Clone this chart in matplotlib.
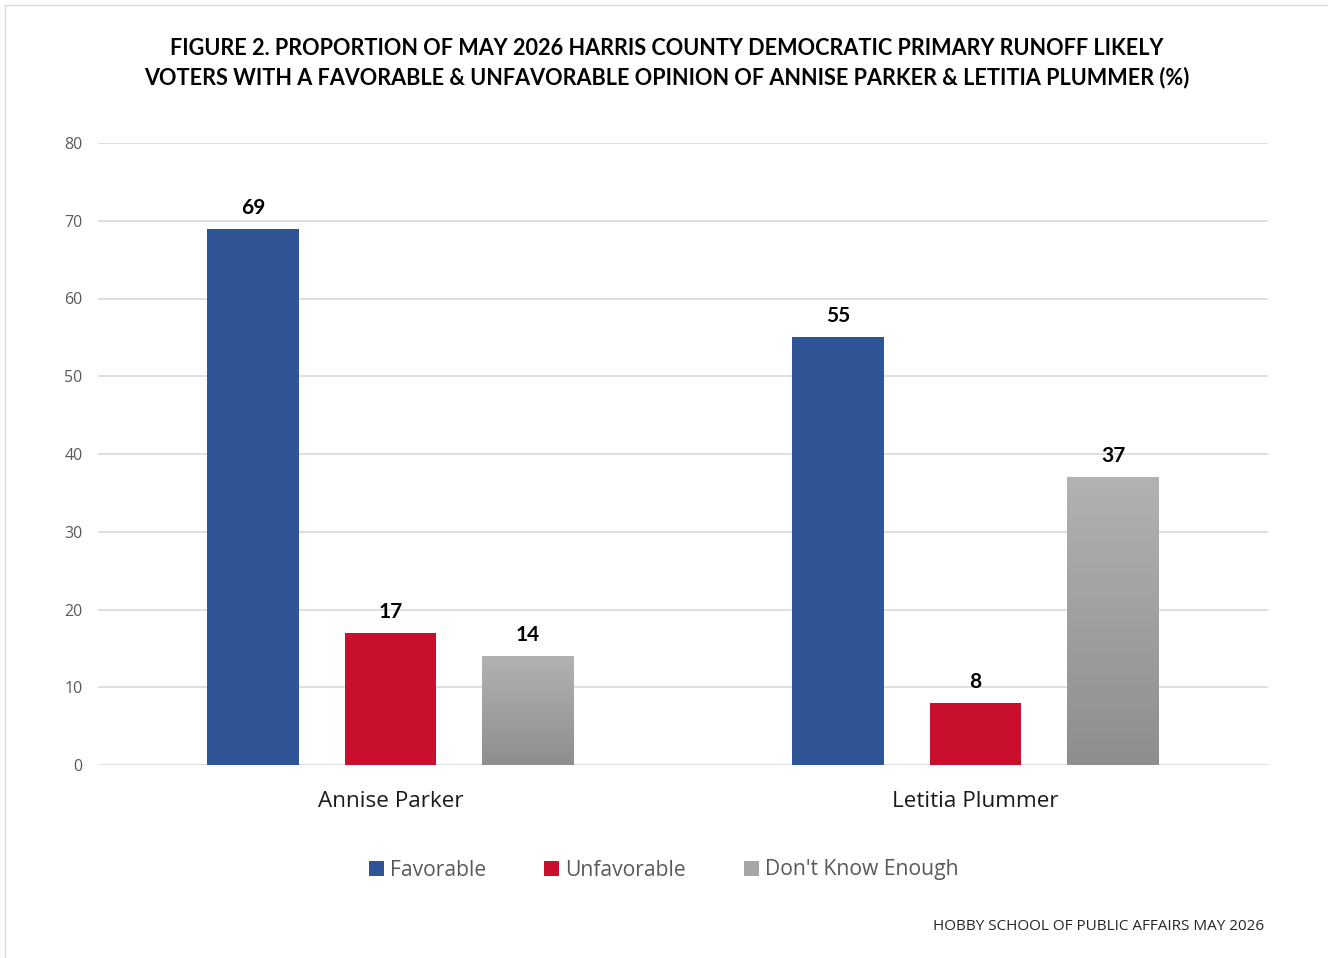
import matplotlib.pyplot as plt
import numpy as np
from matplotlib.patches import Rectangle, Patch

candidates = ['Annise Parker', 'Letitia Plummer']
series = ['Favorable', 'Unfavorable', "Don't Know Enough"]
favorable = [69, 55]
unfavorable = [17, 8]
dont_know = [14, 37]
yticks = [0, 10, 20, 30, 40, 50, 60, 70, 80]

title = ('FIGURE 2. PROPORTION OF MAY 2026 HARRIS COUNTY DEMOCRATIC PRIMARY RUNOFF LIKELY\n'
         'VOTERS WITH A FAVORABLE & UNFAVORABLE OPINION OF ANNISE PARKER & LETITIA PLUMMER (%)')
source = 'HOBBY SCHOOL OF PUBLIC AFFAIRS MAY 2026'

plt.rcParams['font.family'] = ['Open Sans', 'DejaVu Sans']

fig = plt.figure(figsize=(13.28, 9.58), dpi=100)
ax = fig.add_axes([98/1328, 1-765/958, 1170/1328, 622/958])

# light frame around the chart area
fig.patches.append(Rectangle((5/1328, -0.1), 1.2, 1-5/958+0.1, transform=fig.transFigure,
                             fill=False, edgecolor='#D9D9D9', lw=1))

x = np.arange(len(candidates))
w = 0.157
off = 0.235
colors = ['#2F5597', '#C8102E', '#A6A6A6']
values = [favorable, unfavorable, dont_know]

grad = np.linspace(0, 1, 256).reshape(-1, 1)
gcmap = plt.matplotlib.colors.LinearSegmentedColormap.from_list('g', ['#8E8E8E', '#B2B2B2'])
for i, (vals, c) in enumerate(zip(values, colors)):
    bars = ax.bar(x + (i - 1) * off, vals, w, color=c, zorder=3)
    if i == 2:
        for b in bars:
            im = ax.imshow(grad, extent=(b.get_x(), b.get_x() + w, 0, b.get_height()),
                           cmap=gcmap, origin='lower', aspect='auto', zorder=3.5)
            im.set_clip_path(b)
    for b, v in zip(bars, vals):
        ax.text(b.get_x() + w / 2, v + 1.4, str(v), ha='center', va='bottom',
                fontsize=15, fontweight='bold', family=['Lato', 'DejaVu Sans'], color='black')

ax.set_xlim(-0.5, 1.5)
ax.set_ylim(0, 80)
ax.set_yticks(yticks)
ax.set_xticks(x)
ax.set_xticklabels(candidates, fontsize=16.2, color='#1a1a1a')
ax.tick_params(axis='x', length=0, pad=18.5)
ax.tick_params(axis='y', length=0, pad=11, labelsize=11.5, labelcolor='#595959')
ax.grid(axis='y', color='#D9D9D9', lw=1.2, zorder=0)
for s in ax.spines.values():
    s.set_visible(False)

fig.text(0.502, 1-63/958, title, ha='center', va='center', fontsize=15.6,
         fontweight='bold', family=['Lato', 'DejaVu Sans'], linespacing=1.45)

handles = [Patch(facecolor=c) for c in colors]
leg = fig.legend(handles, series, loc='center', bbox_to_anchor=(0.5, 1-870/958), ncol=3,
                 frameon=False, fontsize=15.2, handlelength=0.7, handleheight=0.7,
                 handletextpad=0.3, columnspacing=2.75)
for t in leg.get_texts():
    t.set_color('#595959')

fig.text(1264/1328, 1-926/958, source, ha='right', va='center', fontsize=11, color='#262626')

fig.savefig('out.png', dpi=100)
